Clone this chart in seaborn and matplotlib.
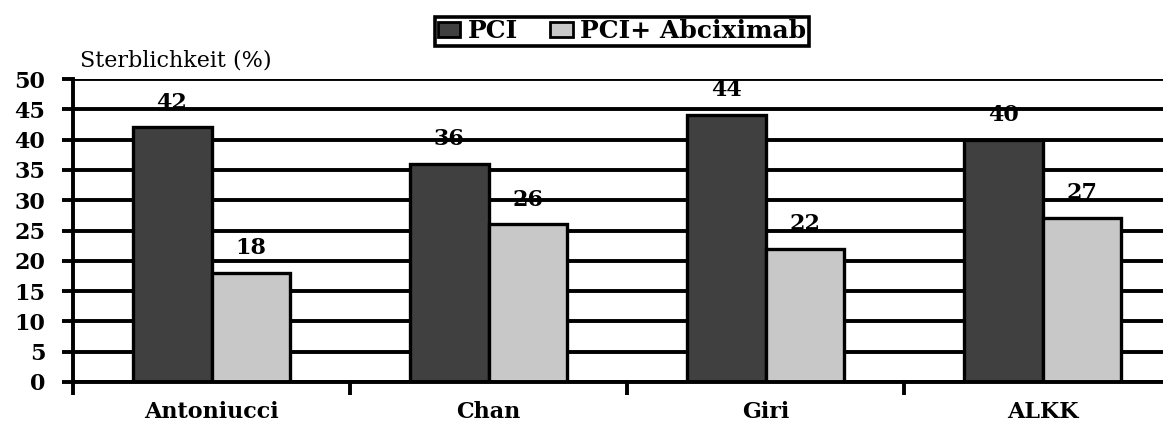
import matplotlib
matplotlib.use("Agg")
import matplotlib.pyplot as plt
import seaborn as sns
import pandas as pd
import numpy as np
from matplotlib.patches import Patch

categories = ["Antoniucci", "Chan", "Giri", "ALKK"]
series_names = ["PCI", "PCI+ Abciximab"]
pci = [42, 36, 44, 40]
pci_abc = [18, 26, 22, 27]
yticks = [0, 5, 10, 15, 20, 25, 30, 35, 40, 45, 50]
ylabel = "Sterblichkeit (%)"

df = pd.DataFrame({
    "Studie": categories * 2,
    "Gruppe": [series_names[0]] * 4 + [series_names[1]] * 4,
    "Wert": pci + pci_abc,
})

sns.set_theme(style="white")
plt.rcParams["font.family"] = ["DejaVu Serif"]
plt.rcParams["text.color"] = "black"
plt.rcParams["xtick.color"] = "black"
plt.rcParams["ytick.color"] = "black"
plt.rcParams["axes.labelcolor"] = "black"

colors = ["#404040", "#c8c8c8"]
fig = plt.figure(figsize=(11.63, 4.25), dpi=100)
ax = fig.add_axes([73 / 1163, 1 - 382 / 425, 1 - 73 / 1163, (382 - 79) / 425])

sns.barplot(data=df, x="Studie", y="Wert", hue="Gruppe", palette=colors,
            width=0.57, gap=0, edgecolor="black", linewidth=2.4,
            ax=ax, legend=False, zorder=3, saturation=1)

ax.set_ylim(0, 50)
ax.set_yticks(yticks)
ax.set_xlim(-0.5, 3.435)
ax.yaxis.grid(True, color="black", linewidth=2.8, zorder=0)
ax.set_axisbelow(True)
for s in ["top", "right"]:
    ax.spines[s].set_visible(False)
for s in ["left", "bottom"]:
    ax.spines[s].set_linewidth(2.8)
    ax.spines[s].set_color("black")
    ax.spines[s].set_zorder(4)

ax.tick_params(axis="y", left=True, direction="out", length=8, width=2.8, color="black",
               labelsize=16, pad=12, labelcolor="black")
for t in ax.get_yticklabels():
    t.set_fontweight("bold")
ax.tick_params(axis="x", which="major", bottom=False, length=0, labelsize=16, pad=14,
               labelcolor="black")
for t in ax.get_xticklabels():
    t.set_fontweight("bold")
ax.set_xticks([-0.5, 0.5, 1.5, 2.5], minor=True)
ax.tick_params(axis="x", which="minor", bottom=True, direction="out", length=9, width=2.8,
               color="black")
ax.set_xlabel("")
ax.set_ylabel("")

for cont in ax.containers:
    ax.bar_label(cont, fmt="%d", padding=10, fontsize=16, fontweight="bold", zorder=5,
                 color="black")

fig.text(80 / 1163, 1 - 60 / 425, ylabel, fontsize=16, ha="left", va="center", color="black")

handles = [Patch(facecolor=c, edgecolor="black", linewidth=2) for c in colors]
leg = fig.legend(handles, series_names, loc="center", bbox_to_anchor=(622 / 1163, 1 - 31 / 425),
                 ncol=2, frameon=True, fancybox=False, edgecolor="black", framealpha=1,
                 prop={"size": 18, "weight": "bold"}, handlelength=0.9, handleheight=0.55,
                 handletextpad=0.3, columnspacing=1.3, borderpad=0.1, borderaxespad=0)
leg.get_frame().set_linewidth(2.6)
for t in leg.get_texts():
    t.set_color("black")

fig.savefig("out.png", dpi=100)
